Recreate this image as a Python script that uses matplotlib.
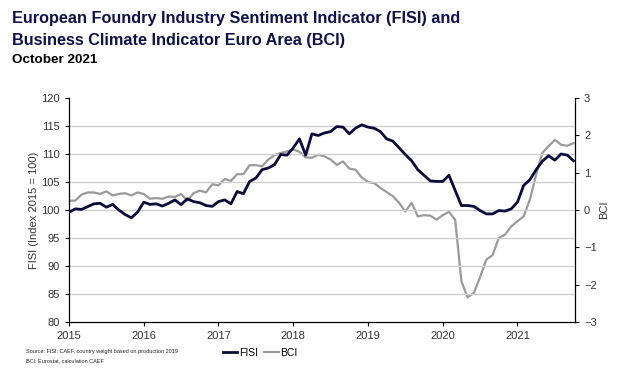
import matplotlib
matplotlib.use("Agg")
import matplotlib.pyplot as plt
import numpy as np

plt.rcParams['font.family'] = ['Liberation Sans', 'DejaVu Sans']

# Monthly data Jan 2015 - Oct 2021
fisi = [
    99.6, 100.2, 100.1, 100.6, 101.1, 101.2, 100.5, 101.0, 100.0, 99.2, 98.6, 99.6,   # 2015
    101.4, 101.0, 101.1, 100.7, 101.2, 101.8, 100.95, 102.0, 101.5, 101.3, 100.8, 100.65,  # 2016
    101.5, 101.8, 101.1, 103.3, 102.9, 105.1, 105.7, 107.2, 107.5, 108.1, 109.9, 109.8,  # 2017
    111.1, 112.7, 109.8, 113.6, 113.3, 113.75, 114.0, 114.9, 114.8, 113.6, 114.6, 115.2,  # 2018
    114.8, 114.6, 114.0, 112.7, 112.3, 111.1, 109.9, 108.8, 107.2, 106.2, 105.2, 105.1,  # 2019
    105.1, 106.2, 103.5, 100.8, 100.8, 100.65, 99.9, 99.3, 99.3, 99.9, 99.8, 100.2,     # 2020
    101.4, 104.4, 105.4, 107.2, 108.7, 109.7, 108.9, 110.0, 109.8, 108.8,               # 2021
]
bci = [
    0.25, 0.25, 0.41, 0.47, 0.47, 0.43, 0.50, 0.39, 0.43, 0.45, 0.39, 0.47,
    0.43, 0.30, 0.32, 0.30, 0.36, 0.35, 0.43, 0.25, 0.45, 0.52, 0.47, 0.69,
    0.66, 0.83, 0.78, 0.96, 0.96, 1.20, 1.20, 1.17, 1.35, 1.47, 1.53, 1.57,
    1.62, 1.56, 1.41, 1.40, 1.48, 1.44, 1.35, 1.21, 1.30, 1.11, 1.08, 0.87,
    0.75, 0.72, 0.59, 0.48, 0.37, 0.19, -0.04, 0.19, -0.17, -0.14, -0.15, -0.26,
    -0.14, -0.05, -0.26, -1.91, -2.34, -2.22, -1.80, -1.33, -1.21, -0.75, -0.66, -0.44,
    -0.30, -0.17, 0.28, 0.95, 1.53, 1.71, 1.88, 1.75, 1.72, 1.79,
]
years = [2015, 2016, 2017, 2018, 2019, 2020, 2021]
left_ticks = [80, 85, 90, 95, 100, 105, 110, 115, 120]
right_ticks = [-3, -2, -1, 0, 1, 2, 3]

x = 2015 + np.arange(len(fisi)) / 12.0

navy = '#0b0b3b'
grey = '#9a9a9a'
tick_col = '#333333'

fig = plt.figure(figsize=(6.43, 3.80), dpi=100)
ax = fig.add_axes([69/643, 1-322/380, (575-69)/643, (322-98)/380])
ax2 = ax.twinx()

ax.set_zorder(2)
ax.patch.set_visible(False)

ln1, = ax.plot(x, fisi, color=navy, lw=2.0, label='FISI', zorder=3)
ln2, = ax2.plot(x, bci, color=grey, lw=1.6, label='BCI', zorder=2)

ax.set_xlim(2015, x[-1] + 0.02)
ax.set_ylim(80, 120)
ax2.set_ylim(-3, 3)
ax.set_yticks(left_ticks)
ax2.set_yticks(right_ticks)
ax.set_xticks(years)
ax.set_xticklabels([str(y) for y in years])

for yv in left_ticks[1:-1]:
    ax.axhline(yv, color='#cfcfcf', lw=1.0, zorder=1)

for a in (ax, ax2):
    a.spines['top'].set_visible(False)
    for s in ('left', 'right', 'bottom'):
        a.spines[s].set_color('black')
        a.spines[s].set_linewidth(0.9)
    a.tick_params(colors='black', labelcolor=tick_col, labelsize=8, length=3, width=0.8, direction='out')
ax.spines['right'].set_visible(False)
ax2.spines['left'].set_visible(False)
ax2.spines['bottom'].set_visible(False)

ax.set_ylabel('FISI (Index 2015 = 100)', fontsize=8, color=tick_col, labelpad=2)
ax2.set_ylabel('BCI', fontsize=8, color=tick_col, rotation=90, labelpad=2)

fig.text(12/643, 1-18/380, 'European Foundry Industry Sentiment Indicator (FISI) and',
         fontsize=11.7, fontweight='bold', color='#10104a', va='center', ha='left')
fig.text(12/643, 1-40/380, 'Business Climate Indicator Euro Area (BCI)',
         fontsize=11.7, fontweight='bold', color='#10104a', va='center', ha='left')
fig.text(12/643, 1-60/380, 'October 2021',
         fontsize=9.7, fontweight='bold', color='black', va='center', ha='left')

fig.text(26/643, 1-352/380, 'Source: FISI: CAEF, country weight based on production 2019',
         fontsize=4.0, color='#222222', va='center', ha='left')
fig.text(26/643, 1-361/380, 'BCI: Eurostat, calculation CAEF',
         fontsize=4.0, color='#222222', va='center', ha='left')

fig.legend([ln1, ln2], ['FISI', 'BCI'], loc='center', bbox_to_anchor=(260/643, 1-353/380),
           ncol=2, frameon=False, fontsize=7.5, handlelength=1.4, handletextpad=0.15,
           columnspacing=0.6, borderpad=0.2)

fig.savefig('out.png', dpi=100)
